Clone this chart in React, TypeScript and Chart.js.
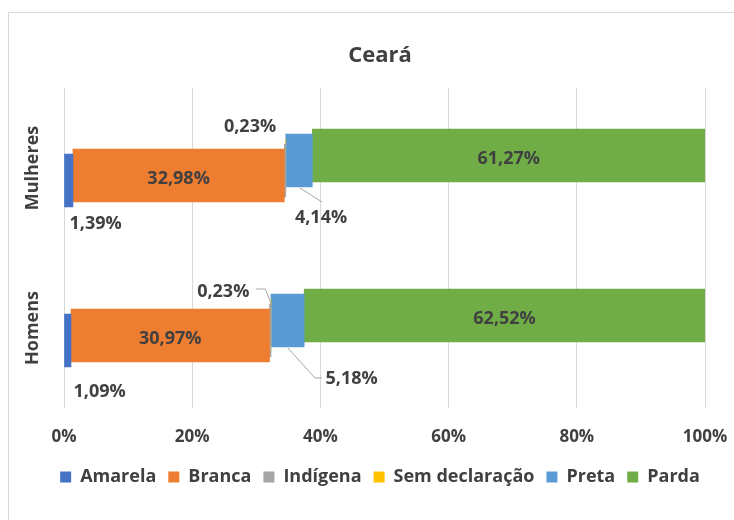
import React, { useEffect, useRef } from "react";
import { Chart, registerables } from "chart.js";

Chart.register(...registerables);

const categories = ["Mulheres", "Homens"];
const amarela = [1.39, 1.09];
const branca = [32.98, 30.97];
const indigena = [0.23, 0.23];
const semDeclaracao = [0, 0];
const preta = [4.14, 5.18];
const parda = [61.27, 62.52];
const xTicks = [0, 20, 40, 60, 80, 100];

const seriesNames = ["Amarela", "Branca", "Indígena", "Sem declaração", "Preta", "Parda"];
const seriesValues = [amarela, branca, indigena, semDeclaracao, preta, parda];
const seriesColors = ["#4472C4", "#ED7D31", "#A5A5A5", "#FFC000", "#5B9BD5", "#70AD47"];

const FONT = "'Open Sans', sans-serif";
const TEXT = "#404040";

// per-dataset vertical shift (pseudo-3D look of the original)
const shiftOf = (i: number) => (2.5 - i) * 5;

// label placement styles, keyed by dataset index then category index (relative to bar centre)
type LabelStyle = { dx: number; dy: number; align: CanvasTextAlign; line?: [number, number][] };
const labelStyles: Record<number, Record<number, LabelStyle>> = {
  0: {
    0: { dx: 5, dy: 43, align: "left" },
    1: { dx: 9, dy: 51, align: "left" },
  },
  2: {
    0: { dx: -35, dy: -44, align: "center" },
    1: { dx: -47, dy: -39, align: "center", line: [[-14, -41.5], [-5, -41.5], [0.7, -27.5]] },
  },
  4: {
    0: { dx: 22, dy: 57, align: "center", line: [[1, 27.5], [23, 41.5]] },
    1: { dx: 64, dy: 58, align: "center", line: [[0.4, 27.5], [27.4, 57.5], [34.4, 57.5]] },
  },
};

const fmt = (v: number) => v.toFixed(2).replace(".", ",") + "%";

const shiftPlugin = {
  id: "shiftBars",
  beforeDatasetDraw(chart: any, args: any) {
    chart.ctx.save();
    chart.ctx.translate(0, shiftOf(args.index));
  },
  afterDatasetDraw(chart: any) {
    chart.ctx.restore();
  },
};

const labelPlugin = {
  id: "valueLabels",
  afterDatasetsDraw(chart: any) {
    const ctx = chart.ctx as CanvasRenderingContext2D;
    ctx.save();
    ctx.font = `bold 18px ${FONT}`;
    ctx.fillStyle = TEXT;
    ctx.textBaseline = "middle";
    chart.data.datasets.forEach((ds: any, i: number) => {
      const meta = chart.getDatasetMeta(i);
      meta.data.forEach((bar: any, j: number) => {
        const v = ds.data[j];
        if (!v) return;
        const { x, base, y } = bar.getProps(["x", "base", "y"], true);
        const cy = y + shiftOf(i);
        const mx = (x + base) / 2;
        const st = labelStyles[i]?.[j];
        if (st) {
          if (st.line) {
            ctx.save();
            ctx.strokeStyle = "#A6A6A6";
            ctx.lineWidth = 1;
            ctx.beginPath();
            st.line.forEach((p, k) => {
              if (k === 0) ctx.moveTo(mx + p[0], cy + p[1]);
              else ctx.lineTo(mx + p[0], cy + p[1]);
            });
            ctx.stroke();
            ctx.restore();
          }
          ctx.textAlign = st.align;
          const tx = st.align === "left" ? base + st.dx : mx + st.dx;
          ctx.fillText(fmt(v), tx, cy + st.dy);
        } else {
          ctx.textAlign = "center";
          ctx.fillText(fmt(v), mx, cy + 3);
        }
      });
    });
    ctx.restore();
  },
};

const catLabelPlugin = {
  id: "catLabels",
  afterDraw(chart: any) {
    const ctx = chart.ctx as CanvasRenderingContext2D;
    const yScale = chart.scales.y;
    ctx.save();
    ctx.font = `bold 18px ${FONT}`;
    ctx.fillStyle = TEXT;
    ctx.textAlign = "center";
    ctx.textBaseline = "middle";
    categories.forEach((c, j) => {
      const y = yScale.getPixelForValue(j);
      ctx.save();
      ctx.translate(33, y);
      ctx.rotate(-Math.PI / 2);
      ctx.fillText(c, 0, 0);
      ctx.restore();
    });
    ctx.restore();
  },
};

export default function App() {
  const ref = useRef<HTMLCanvasElement>(null);
  useEffect(() => {
    if (!ref.current) return;
    const chart = new Chart(ref.current, {
      type: "bar",
      data: {
        labels: categories,
        datasets: seriesNames.map((name, i) => ({
          label: name,
          data: seriesValues[i],
          backgroundColor: seriesColors[i],
          borderWidth: 0,
          barThickness: 53,
        })),
      },
      options: {
        indexAxis: "y",
        animation: false,
        responsive: false,
        layout: { padding: { top: 43, left: 26, right: 0, bottom: 24 } },
        scales: {
          x: {
            stacked: true,
            min: 0,
            max: 100,
            afterBuildTicks: (scale: any) => {
              scale.ticks = xTicks.map((v) => ({ value: v }));
            },
            afterFit: (scale: any) => {
              scale.height = 48;
              scale.paddingLeft = 0;
              scale.paddingRight = 29;
            },
            ticks: {
              padding: 19,
              color: TEXT,
              font: { family: FONT, size: 17, weight: "bold" },
              callback: (v: any) => v + "%",
            },
            grid: { color: "#D9D9D9", drawTicks: false },
            border: { display: false },
          },
          y: {
            stacked: true,
            display: true,
            ticks: { display: false },
            grid: { display: false },
            border: { display: false },
            afterFit: (scale: any) => {
              scale.width = 38;
            },
          },
        },
        plugins: {
          title: {
            display: true,
            text: "Ceará",
            color: TEXT,
            font: { family: FONT, size: 22, weight: "bold" },
            padding: { top: 0, bottom: 18.6 },
          },
          legend: {
            position: "bottom",
            labels: {
              boxWidth: 11,
              boxHeight: 11,
              padding: 12,
              color: TEXT,
              font: { family: FONT, size: 18, weight: "bold" },
            },
          },
          tooltip: { enabled: false },
        },
      },
      plugins: [shiftPlugin, labelPlugin, catLabelPlugin],
    } as any);
    return () => chart.destroy();
  }, []);
  return (
    <div style={{ position: "fixed", left: 0, top: 0, width: 734, height: 520, background: "#fff" }}>
      <div
        style={{
          position: "absolute",
          left: 8,
          top: 12,
          right: 0,
          bottom: 0,
          borderLeft: "1px solid #D9D9D9",
          borderTop: "1px solid #D9D9D9",
        }}
      />
      <canvas ref={ref} width={734} height={520} style={{ position: "absolute", left: 0, top: 0 }} />
    </div>
  );
}
